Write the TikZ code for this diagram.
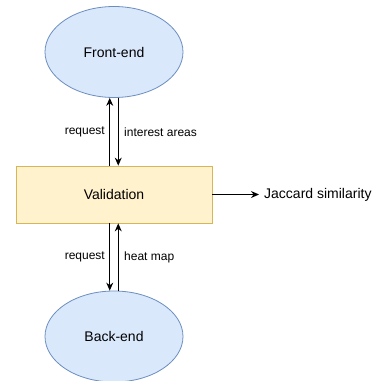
\documentclass[tikz,border=0pt]{standalone}
\usepackage{fontspec}
\setmainfont{Liberation Sans}
\usetikzlibrary{shapes.geometric, arrows.meta}

\definecolor{endfill}{HTML}{DAE8FC}
\definecolor{endline}{HTML}{6C8EBF}
\definecolor{valfill}{HTML}{FFF2CC}
\definecolor{valline}{HTML}{D6B656}

\begin{document}
\begin{tikzpicture}[x=1pt, y=-1pt,
        endnode/.style={ellipse, draw=endline, fill=endfill, line width=0.8pt,
            minimum width=138pt, minimum height=91pt, inner sep=0pt,
            font=\fontsize{14}{16}\selectfont},
        valnode/.style={rectangle, draw=valline, fill=valfill, line width=0.8pt,
            minimum width=196pt, minimum height=57pt, inner sep=0pt,
            font=\fontsize{14}{16}\selectfont},
        link/.style={-{Stealth[length=8pt, width=7pt]}, line width=1pt},
        lbl/.style={font=\fontsize{12}{14}\selectfont, inner sep=0pt}]
    \useasboundingbox (0, 0) rectangle (373, 381);

    \node[endnode] (front) at (114, 52) {Front-end};
    \node[valnode] (val) at (114, 194.5) {Validation};
    \node[endnode] (back) at (114, 336.5) {Back-end};
    \node[anchor=west, inner sep=0pt, font=\fontsize{14}{16}\selectfont] (jac) at (264, 194.5) {Jaccard similarity};

    % between front-end and validation
    \draw[link] ([xshift=-4.25pt]val.north) -- ([xshift=-4.25pt]front.south);
    \draw[link] ([xshift=4.25pt]front.south) -- ([xshift=4.25pt]val.north);
    \node[lbl, anchor=east] (req1) at (105, 132) {request};
    \node[lbl, anchor=west] (areas) at (124, 132) {interest areas};

    % between validation and back-end
    \draw[link] ([xshift=-4.25pt]val.south) -- ([xshift=-4.25pt]back.north);
    \draw[link] ([xshift=4.25pt]back.north) -- ([xshift=4.25pt]val.south);
    \node[lbl, anchor=east] (req2) at (105, 257) {request};
    \node[lbl, anchor=west] (heat) at (124, 257) {heat map};

    \draw[link, shorten >=5pt] (val.east) -- (jac.west);
\end{tikzpicture}
\end{document}
